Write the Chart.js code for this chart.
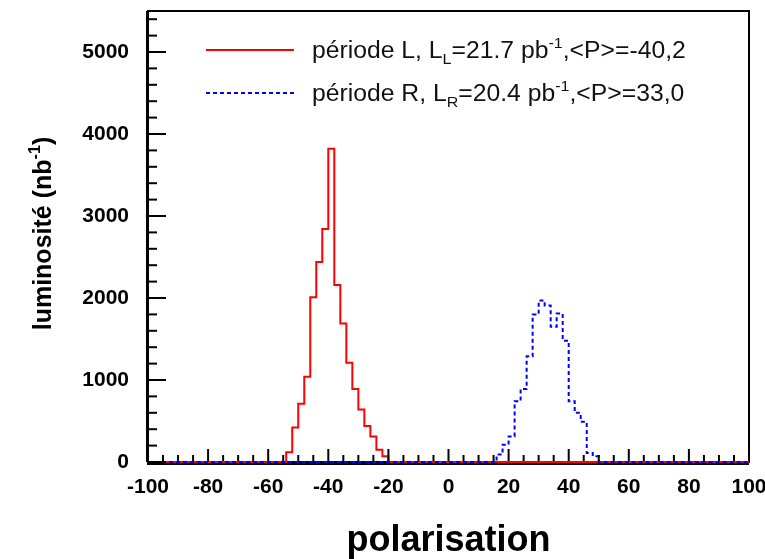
<!DOCTYPE html>
<html>
<head>
<meta charset="utf-8">
<script src="https://cdn.jsdelivr.net/npm/chart.js@4.4.0/dist/chart.umd.min.js"></script>
<style>
  html, body { margin: 0; padding: 0; background: #fff; }
  #wrap { width: 765px; height: 559px; }
</style>
</head>
<body>
<div id="wrap"><canvas id="grafico"></canvas></div>
<script>
// Histogrammes: bins de 2 unités, seuls les bins non vides sont listés
const binLargeur = 2;
const axeMin = -100;
const axeMax = 100;
const yMax = 5500;

const debutL = -54;
const valeursL = [120, 420, 710, 1040, 2010, 2440, 2840, 3820, 2160, 1690, 1210, 890, 640, 440, 310, 150, 70];
const debutR = 16;
const valeursR = [90, 210, 310, 740, 890, 1290, 1800, 1970, 1910, 1650, 1810, 1480, 740, 600, 490, 110, 70];

const ticksX = [-100, -80, -60, -40, -20, 0, 20, 40, 60, 80, 100];
const ticksY = [0, 1000, 2000, 3000, 4000, 5000];

// Légende et titres (avec indices / exposants)
const legendeL = [{t: 'période L, L'}, {t: 'L', pos: 'sub'}, {t: '=21.7 pb'}, {t: '-1', pos: 'sup'}, {t: ',<P>=-40,2'}];
const legendeR = [{t: 'période R, L'}, {t: 'R', pos: 'sub'}, {t: '=20.4 pb'}, {t: '-1', pos: 'sup'}, {t: ',<P>=33,0'}];
const titreY = [{t: 'luminosité (nb'}, {t: '-1', pos: 'sup'}, {t: ')'}];
const titreX = 'polarisation';

const police = '"Liberation Sans", Arial, Helvetica, sans-serif';

// Construire les points du contour (bord gauche de chaque bin)
function histo(debut, valeurs) {
    const pts = [];
    for (let x = axeMin; x <= axeMax; x += binLargeur) {
        const i = (x - debut) / binLargeur;
        const y = (i >= 0 && i < valeurs.length) ? valeurs[i] : 0;
        pts.push({x: x, y: y});
    }
    return pts;
}

// Texte avec indices et exposants, renvoie la largeur
function largeurRiche(ctx, segments, taille, gras) {
    let l = 0;
    segments.forEach(s => {
        const tt = s.pos ? taille * 0.65 : taille;
        ctx.font = (gras ? 'bold ' : '') + tt + 'px ' + police;
        l += ctx.measureText(s.t).width;
    });
    return l;
}

function texteRiche(ctx, segments, x, y, taille, gras, etirement) {
    ctx.save();
    ctx.translate(x, y);
    ctx.scale(etirement || 1, 1);
    ctx.textBaseline = 'alphabetic';
    ctx.textAlign = 'left';
    let cx = 0;
    segments.forEach(s => {
        const tt = s.pos ? taille * 0.65 : taille;
        let dy = 0;
        if (s.pos === 'sub') dy = taille * 0.25;
        if (s.pos === 'sup') dy = -taille * 0.45;
        ctx.font = (gras ? 'bold ' : '') + tt + 'px ' + police;
        ctx.fillText(s.t, cx, dy);
        cx += ctx.measureText(s.t).width;
    });
    ctx.restore();
}

// Cadre posé sous les histogrammes
const cadreFond = {
    id: 'cadreFond',
    beforeDatasetsDraw(chart) {
        const ctx = chart.ctx;
        const a = chart.chartArea;
        ctx.save();
        ctx.strokeStyle = '#000';
        ctx.lineWidth = 2;
        ctx.strokeRect(a.left, a.top, a.right - a.left, a.bottom - a.top);
        ctx.lineWidth = 3;
        ctx.beginPath();
        ctx.moveTo(a.left - 1, a.bottom + 1.5);
        ctx.lineTo(a.right, a.bottom + 1.5);
        ctx.moveTo(a.left - 0.5, a.top);
        ctx.lineTo(a.left - 0.5, a.bottom);
        ctx.stroke();
        ctx.restore();
    }
};

const cadre = {
    id: 'cadre',
    afterDatasetsDraw(chart) {
        const ctx = chart.ctx;
        const a = chart.chartArea;
        const sx = chart.scales.x;
        const sy = chart.scales.y;
        ctx.save();
        ctx.strokeStyle = '#000';
        ctx.lineWidth = 2;

        // graduations vers l'intérieur
        for (let v = axeMin; v <= axeMax; v += 5) {
            const px = sx.getPixelForValue(v);
            const l = v % 20 === 0 ? 13 : 7;
            ctx.beginPath();
            ctx.moveTo(px, a.bottom - 1);
            ctx.lineTo(px, a.bottom - l);
            ctx.stroke();
        }
        for (let v = 0; v <= yMax; v += 200) {
            const py = sy.getPixelForValue(v);
            const l = v % 1000 === 0 ? 18 : 9;
            ctx.beginPath();
            ctx.moveTo(a.left, py);
            ctx.lineTo(a.left + l, py);
            ctx.stroke();
        }

        // légende
        const entrees = [
            {seg: legendeL, couleur: '#ff0000', dash: [], y: 50},
            {seg: legendeR, couleur: '#0000ff', dash: [4, 3], y: 93}
        ];
        entrees.forEach(e => {
            ctx.strokeStyle = e.couleur;
            ctx.lineWidth = 2;
            ctx.setLineDash(e.dash);
            ctx.beginPath();
            ctx.moveTo(206, e.y);
            ctx.lineTo(294, e.y);
            ctx.stroke();
            ctx.setLineDash([]);
            ctx.fillStyle = '#111';
            texteRiche(ctx, e.seg, 312, e.y + 8, 23, false, 1.075);
        });

        // titre axe X
        ctx.fillStyle = '#000';
        ctx.font = 'bold 36px ' + police;
        ctx.textAlign = 'center';
        ctx.textBaseline = 'alphabetic';
        ctx.fillText(titreX, (a.left + a.right) / 2, 551);

        // titre axe Y (vertical)
        const tY = 25;
        const lY = largeurRiche(ctx, titreY, tY, true);
        ctx.translate(51, (a.top + a.bottom) / 2 - 3);
        ctx.rotate(-Math.PI / 2);
        texteRiche(ctx, titreY, -lY / 2, 0, tY, true, 1);
        ctx.restore();
    }
};

function sansPadding(scale) {
    scale.paddingTop = 0;
    scale.paddingBottom = 0;
    scale.paddingLeft = 0;
    scale.paddingRight = 0;
}

const ctx = document.getElementById('grafico').getContext('2d');
new Chart(ctx, {
    type: 'line',
    data: {
        datasets: [{
            label: 'période L',
            data: histo(debutL, valeursL),
            borderColor: '#ff0000',
            borderWidth: 2,
            pointRadius: 0,
            stepped: true,
            fill: false,
            clip: false,
            order: 2
        }, {
            label: 'période R',
            data: histo(debutR, valeursR),
            borderColor: '#0000ff',
            borderWidth: 2,
            borderDash: [4, 3],
            pointRadius: 0,
            stepped: true,
            fill: false,
            clip: false,
            order: 1
        }]
    },
    options: {
        animation: false,
        responsive: true,
        maintainAspectRatio: false,
        layout: {padding: {left: 0, right: 16, top: 11, bottom: 0}},
        plugins: {
            legend: {display: false},
            tooltip: {enabled: false}
        },
        scales: {
            x: {
                type: 'linear',
                min: axeMin,
                max: axeMax,
                grid: {display: false},
                border: {display: false},
                afterBuildTicks: function(scale) {
                    scale.ticks = ticksX.map(v => ({value: v}));
                },
                afterFit: function(scale) {
                    scale.height = 97;
                    sansPadding(scale);
                },
                ticks: {
                    autoSkip: false,
                    maxRotation: 0,
                    padding: 5,
                    color: '#000',
                    font: {family: police, size: 21, weight: 'bold'},
                    callback: v => String(v)
                }
            },
            y: {
                min: 0,
                max: yMax,
                grid: {display: false},
                border: {display: false},
                afterBuildTicks: function(scale) {
                    scale.ticks = ticksY.map(v => ({value: v}));
                },
                afterFit: function(scale) {
                    scale.width = 148;
                    sansPadding(scale);
                },
                ticks: {
                    padding: 11,
                    color: '#000',
                    font: {family: police, size: 21, weight: 'bold'},
                    callback: v => String(v)
                }
            }
        }
    },
    plugins: [cadreFond, cadre]
});
</script>
</body>
</html>
